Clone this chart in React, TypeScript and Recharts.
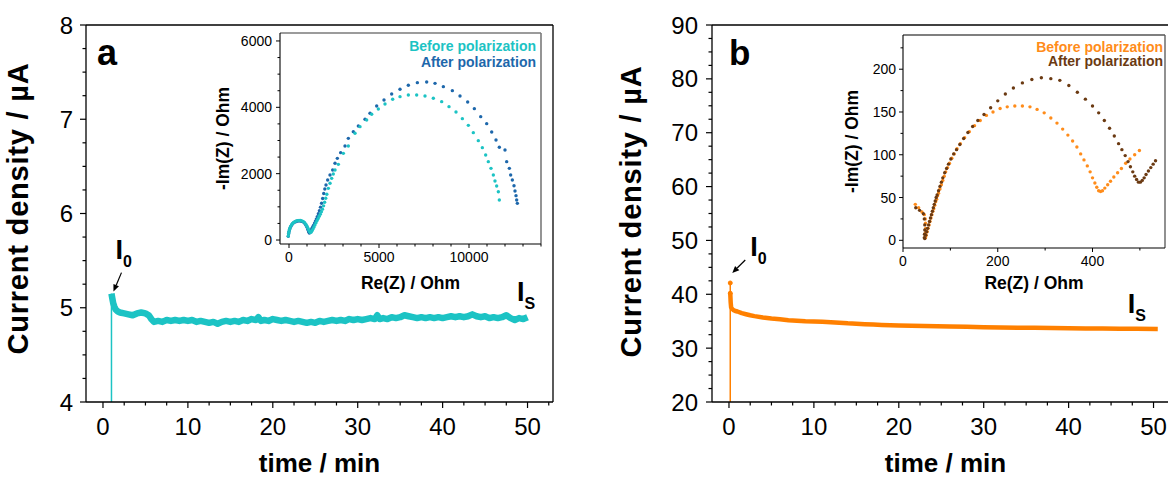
import React from 'react';
import {
  ComposedChart,
  Line,
  XAxis,
  YAxis,
  ReferenceLine,
  ReferenceDot,
  ScatterChart,
  Scatter,
  Label,
} from 'recharts';

const FONT = '"Liberation Sans", Arial, Helvetica, sans-serif';

const CYAN = '#1CC3C4';
const BLUE = '#1D67AB';
const ORANGE = '#FF8000';
const ORANGE_LIGHT = '#FF8C1A';
const BROWN = '#6B3A12';

// ---------- Panel a: chronoamperometry ----------
const timeA = [1.0, 1.1, 1.2, 1.35, 1.5, 1.75, 2.0, 2.5, 3.0, 3.5, 4.0, 4.5, 5.0, 5.4, 5.7, 6.0, 6.5, 7.0, 7.5, 8.0, 8.5, 9.0, 9.5, 10.0, 10.5, 11.0, 11.5, 12.0, 12.5, 13.0, 13.5, 14.0, 14.5, 15.0, 15.5, 16.0, 16.5, 17.0, 17.5, 18.0, 18.3, 18.6, 19.0, 19.5, 20.0, 20.5, 21.0, 21.5, 22.0, 22.5, 23.0, 23.5, 24.0, 24.5, 25.0, 25.5, 26.0, 26.5, 27.0, 27.5, 28.0, 28.5, 29.0, 29.5, 30.0, 30.5, 31.0, 31.5, 32.0, 32.3, 32.6, 33.0, 33.5, 34.0, 34.5, 35.0, 35.5, 36.0, 36.5, 37.0, 37.5, 38.0, 38.5, 39.0, 39.5, 40.0, 40.5, 41.0, 41.5, 42.0, 42.5, 43.0, 43.5, 44.0, 44.5, 45.0, 45.5, 46.0, 46.5, 47.0, 47.5, 48.0, 48.5, 49.0, 49.5, 50.0];
const currentA = [5.15, 5.10, 5.05, 5.01, 4.98, 4.96, 4.95, 4.94, 4.93, 4.92, 4.94, 4.95, 4.94, 4.92, 4.88, 4.85, 4.86, 4.85, 4.87, 4.86, 4.87, 4.86, 4.87, 4.86, 4.87, 4.85, 4.86, 4.85, 4.84, 4.85, 4.83, 4.85, 4.86, 4.85, 4.86, 4.85, 4.87, 4.86, 4.88, 4.87, 4.90, 4.86, 4.87, 4.86, 4.88, 4.87, 4.86, 4.87, 4.86, 4.85, 4.86, 4.85, 4.84, 4.85, 4.84, 4.86, 4.85, 4.86, 4.87, 4.86, 4.87, 4.86, 4.88, 4.87, 4.88, 4.87, 4.88, 4.89, 4.88, 4.92, 4.88, 4.89, 4.88, 4.90, 4.89, 4.90, 4.92, 4.91, 4.90, 4.89, 4.90, 4.89, 4.90, 4.89, 4.90, 4.89, 4.90, 4.91, 4.90, 4.91, 4.90, 4.91, 4.93, 4.91, 4.90, 4.91, 4.89, 4.90, 4.89, 4.90, 4.92, 4.89, 4.87, 4.89, 4.88, 4.90];
const spikeTimeA = [1.0, 1.0];
const spikeCurrentA = [4.0, 5.15];

// ---------- Panel b: chronoamperometry ----------
const timeB = [0.15, 0.2, 0.25, 0.35, 0.5, 0.75, 1, 1.5, 2, 2.5, 3, 4, 5, 6, 7, 8, 9, 10, 11, 12, 13, 14, 15, 16, 17, 18, 19, 20, 21.5, 23, 24.5, 26, 28, 30, 32, 34, 36, 38, 40, 42, 44, 46, 48, 50.5];
const currentB = [40.2, 38.5, 37.6, 37.3, 37.1, 36.9, 36.8, 36.5, 36.3, 36.1, 35.95, 35.7, 35.5, 35.35, 35.2, 35.1, 35.0, 34.95, 34.88, 34.8, 34.7, 34.6, 34.55, 34.45, 34.38, 34.3, 34.25, 34.2, 34.15, 34.1, 34.05, 34.0, 33.95, 33.9, 33.85, 33.8, 33.77, 33.72, 33.7, 33.66, 33.63, 33.6, 33.58, 33.55];
const spikeTimeB = [0.15, 0.15];
const spikeCurrentB = [20, 42.1];
const peakTimeB = [0.15, 0.15];
const peakCurrentB = [42.1, 40.2];

// ---------- Inset a: Nyquist ----------
const reBeforeA = [-40, -20, 0, 30, 60, 100, 150, 200, 260, 330, 400, 480, 560, 640, 720, 800, 870, 940, 1000, 1060, 1110, 1150, 1190, 1240, 1290, 1340, 1390, 1440, 1500, 1560, 1620, 1680, 1740, 1800, 1860, 1920, 1980, 2040, 2100, 2185, 2280, 2370, 2460, 2556, 2741, 3019, 3296, 3667, 3944, 4315, 4593, 4963, 5334, 5760, 6167, 6630, 7093, 7556, 8019, 8482, 8889, 9278, 9630, 9963, 10240, 10518, 10741, 10926, 11074, 11222, 11352, 11444, 11537, 11630, 11685];
const imBeforeA = [120, 200, 260, 320, 370, 420, 465, 500, 530, 555, 572, 585, 590, 588, 578, 555, 520, 470, 415, 350, 295, 250, 225, 245, 290, 340, 395, 455, 520, 590, 650, 715, 780, 850, 930, 1030, 1140, 1260, 1380, 1558, 1710, 1859, 1990, 2110, 2281, 2613, 2834, 3216, 3417, 3618, 3789, 3950, 4100, 4241, 4321, 4372, 4372, 4342, 4271, 4170, 4020, 3859, 3658, 3457, 3236, 2995, 2784, 2563, 2362, 2161, 1960, 1779, 1628, 1457, 1206];
const reAfterA = [-40, -20, 0, 30, 60, 100, 150, 200, 260, 330, 400, 480, 560, 640, 720, 800, 870, 930, 990, 1040, 1090, 1130, 1170, 1220, 1270, 1320, 1370, 1420, 1470, 1520, 1570, 1630, 1690, 1750, 1810, 1870, 1930, 1990, 2056, 2148, 2278, 2426, 2556, 2685, 2870, 3111, 3296, 3574, 3852, 4223, 4500, 4871, 5278, 5704, 6167, 6630, 7130, 7649, 8112, 8575, 9075, 9500, 9926, 10297, 10650, 10983, 11261, 11500, 11685, 12000, 12093, 12241, 12315, 12408, 12501, 12556, 12612, 12649, 12686];
const imAfterA = [110, 190, 250, 310, 360, 410, 455, 490, 520, 545, 560, 572, 576, 573, 562, 540, 505, 455, 395, 320, 250, 210, 235, 290, 350, 400, 450, 510, 570, 630, 700, 790, 880, 990, 1110, 1250, 1400, 1540, 1658, 1809, 1960, 2111, 2312, 2462, 2633, 2834, 3065, 3266, 3437, 3638, 3819, 4040, 4221, 4402, 4543, 4663, 4743, 4764, 4723, 4623, 4502, 4342, 4161, 3960, 3719, 3508, 3256, 3015, 2794, 2714, 2362, 2161, 1960, 1809, 1638, 1477, 1337, 1206, 1106];

// ---------- Inset b: Nyquist ----------
const reBeforeB = [26, 33, 40, 45, 47, 47.5, 48, 47.5, 47, 47.5, 49, 51, 53, 55, 57, 59, 61, 63, 65, 67, 69, 71, 73, 75, 78, 81, 84, 87, 90, 94, 98, 103, 108, 114, 121, 130, 140, 151, 163, 176, 190, 205, 220, 236, 252, 268, 283, 298, 312, 325, 337, 348, 358, 367, 375, 382, 389, 395, 400, 405, 409, 413, 417, 421, 426, 432, 438, 445, 453, 461, 470, 479, 489, 499];
const imBeforeB = [42, 38, 33, 30, 25, 20, 14, 9, 5, 3, 6, 10, 14, 18, 22, 26, 30, 34, 37, 41, 45, 48, 52, 55, 60, 65, 70, 75, 80, 85, 90, 96, 101, 107, 113, 120, 127, 134, 140, 146, 150, 154, 156, 157, 157, 156, 153, 149, 143, 137, 130, 123, 116, 109, 101, 94, 87, 80, 73, 67, 62, 58, 57, 58, 61, 65, 69, 74, 79, 84, 90, 95, 100, 105];
const reAfterB = [27, 35, 43, 45, 46, 46, 45.5, 45, 46, 48, 50, 52, 54, 56, 58, 60, 62, 64, 66, 68, 70, 72, 75, 78, 81, 84, 88, 92, 96, 101, 107, 113, 120, 128, 137, 147, 158, 171, 185, 200, 216, 233, 252, 272, 292, 312, 331, 350, 368, 385, 400, 413, 425, 436, 446, 455, 462, 469, 475, 480, 485, 489, 493, 497, 501, 505, 509, 513, 518, 523, 528, 533];
const imAfterB = [38, 35, 31, 25, 18, 12, 7, 3, 2, 6, 10, 14, 18, 22, 26, 30, 34, 38, 42, 46, 50, 53, 58, 63, 68, 73, 79, 84, 89, 95, 101, 106, 112, 119, 126, 133, 140, 147, 155, 163, 171, 178, 184, 188, 190, 189, 187, 181, 173, 165, 157, 149, 140, 131, 122, 113, 106, 99, 92, 86, 80, 75, 71, 68, 68, 70, 73, 77, 81, 85, 89, 93];

// ---------- Ticks ----------
const mainXTicks = [0, 2.5, 5, 7.5, 10, 12.5, 15, 17.5, 20, 22.5, 25, 27.5, 30, 32.5, 35, 37.5, 40, 42.5, 45, 47.5, 50, 52.5];
const mainXMajor = [0, 10, 20, 30, 40, 50];
const yTicksA = [4, 4.25, 4.5, 4.75, 5, 5.25, 5.5, 5.75, 6, 6.25, 6.5, 6.75, 7, 7.25, 7.5, 7.75, 8];
const yMajorA = [4, 5, 6, 7, 8];
const yTicksB = [20, 22.5, 25, 27.5, 30, 32.5, 35, 37.5, 40, 42.5, 45, 47.5, 50, 52.5, 55, 57.5, 60, 62.5, 65, 67.5, 70, 72.5, 75, 77.5, 80, 82.5, 85, 87.5, 90];
const yMajorB = [20, 30, 40, 50, 60, 70, 80, 90];
const insetAXTicks = [0, 1000, 2000, 3000, 4000, 5000, 6000, 7000, 8000, 9000, 10000, 11000, 12000, 13000, 14000];
const insetAXMajor = [0, 5000, 10000];
const insetAYTicks = [0, 500, 1000, 1500, 2000, 2500, 3000, 3500, 4000, 4500, 5000, 5500, 6000];
const insetAYMajor = [0, 2000, 4000, 6000];
const insetBXTicks = [0, 100, 200, 300, 400, 500];
const insetBXMajor = [0, 200, 400];
const insetBYTicks = [0, 25, 50, 75, 100, 125, 150, 175, 200, 225];
const insetBYMajor = [0, 50, 100, 150, 200];

const zip = (xs: number[], ys: number[]) => xs.map((x, i) => ({ x, y: ys[i] }));

const bandA = zip(timeA, currentA);
const spikeA = zip(spikeTimeA, spikeCurrentA);
const bandB = zip(timeB, currentB);
const spikeB = zip(spikeTimeB, spikeCurrentB);
const peakB = zip(peakTimeB, peakCurrentB);
const beforeA = zip(reBeforeA, imBeforeA);
const afterA = zip(reAfterA, imAfterA);
const beforeB = zip(reBeforeB, imBeforeB);
const afterB = zip(reAfterB, imAfterB);

function makeTick(
  orient: 'bottom' | 'left',
  majors: number[],
  fontSize: number,
  majorLen: number,
  minorLen: number,
  offset: number,
  sw: number
) {
  return (props: any) => {
    const { x, y, payload } = props;
    const v = payload.value;
    const isMajor = majors.some((m) => Math.abs(m - v) < 1e-9);
    const len = isMajor ? majorLen : minorLen;
    if (orient === 'bottom') {
      return (
        <g>
          <line x1={x} x2={x} y1={y} y2={y + len} stroke="#000" strokeWidth={sw} />
          {isMajor && (
            <text x={x} y={y + offset} textAnchor="middle" fontSize={fontSize} fontFamily={FONT} fill="#000">
              {v}
            </text>
          )}
        </g>
      );
    }
    return (
      <g>
        <line x1={x} x2={x - len} y1={y} y2={y} stroke="#000" strokeWidth={sw} />
        {isMajor && (
          <text x={x - offset} y={y} dy="0.36em" textAnchor="end" fontSize={fontSize} fontFamily={FONT} fill="#000">
            {v}
          </text>
        )}
      </g>
    );
  };
}

const xTitle = (text: string, fs: number, dyBase: number) => (p: any) => {
  const vb = p.viewBox || { x: 0, y: 0, width: 0, height: 0 };
  return (
    <text x={vb.x + vb.width / 2} y={vb.y + dyBase} textAnchor="middle" fontSize={fs} fontWeight="bold" fontFamily={FONT} fill="#000">
      {text}
    </text>
  );
};

const yTitle = (text: string, fs: number, xBase: number, spacing = 0, dyc = 0) => (p: any) => {
  const vb = p.viewBox || { x: 0, y: 0, width: 0, height: 0 };
  const cy = vb.y + vb.height / 2 + dyc;
  return (
    <text transform={`translate(${vb.x + xBase},${cy}) rotate(-90)`} textAnchor="middle" fontSize={fs} fontWeight="bold" fontFamily={FONT} fill="#000" letterSpacing={spacing}>
      {text}
    </text>
  );
};

const Arrow = ({ x1, y1, x2, y2 }: { x1: number; y1: number; x2: number; y2: number }) => {
  const dx = x2 - x1;
  const dy = y2 - y1;
  const L = Math.hypot(dx, dy) || 1;
  const ux = dx / L;
  const uy = dy / L;
  const hl = 7;
  const hw = 3;
  const bx = x2 - ux * hl;
  const by = y2 - uy * hl;
  return (
    <g>
      <line x1={x1} y1={y1} x2={bx} y2={by} stroke="#000" strokeWidth={1.2} />
      <polygon points={`${x2},${y2} ${bx - uy * hw},${by + ux * hw} ${bx + uy * hw},${by - ux * hw}`} fill="#000" />
    </g>
  );
};

const subLabel = (main: string, sub: string, dx: number, dy: number) => (p: any) => (
  <text x={p.cx + dx} y={p.cy + dy} fontSize={27} fontWeight="bold" fontFamily={FONT} fill="#000">
    {main}
    <tspan fontSize={16} dy={8}>
      {sub}
    </tspan>
  </text>
);

const i0Label = (tdx: number, tdy: number, a: number[]) => (p: any) => (
  <g>
    <text x={p.cx + tdx} y={p.cy + tdy} fontSize={27} fontWeight="bold" fontFamily={FONT} fill="#000">
      I
      <tspan fontSize={16} dy={8}>
        0
      </tspan>
    </text>
    <Arrow x1={p.cx + a[0]} y1={p.cy + a[1]} x2={p.cx + a[2]} y2={p.cy + a[3]} />
  </g>
);

const panelLetter = (letter: string, dx: number, dy: number, fs: number) => (p: any) => (
  <text x={p.cx + dx} y={p.cy + dy} fontSize={fs} fontWeight="bold" fontFamily={FONT} fill="#000">
    {letter}
  </text>
);

const legendBlock = (c1: string, c2: string, dx: number, dy1: number, dy2: number) => (p: any) => (
  <g fontFamily={FONT} fontWeight="bold" fontSize={14} textAnchor="end">
    <text x={p.cx + dx} y={p.cy + dy1} fill={c1}>
      Before polarization
    </text>
    <text x={p.cx + dx} y={p.cy + dy2} fill={c2}>
      After polarization
    </text>
  </g>
);

const dotShape = (color: string, r: number) => (p: any) => <circle cx={p.cx} cy={p.cy} r={r} fill={color} />;

const axisLine = { stroke: '#000', strokeWidth: 1.3 };

const tickMainX = makeTick('bottom', mainXMajor, 24, 6, 3.5, 33, 1.2);
const tickAY = makeTick('left', yMajorA, 24, 6, 3.5, 13, 1.2);
const tickBY = makeTick('left', yMajorB, 24, 6, 3.5, 14, 1.2);
const tickInAX = makeTick('bottom', insetAXMajor, 14, 4, 2.5, 18, 1);
const tickInAY = makeTick('left', insetAYMajor, 14, 4, 2.5, 8, 1);
const tickInBX = makeTick('bottom', insetBXMajor, 14, 4, 2.5, 18, 1);
const tickInBY = makeTick('left', insetBYMajor, 14, 4, 2.5, 7, 1);

export default function App() {
  return (
    <div style={{ position: 'absolute', left: 0, top: 0, width: 1168, height: 478, overflow: 'hidden', background: '#fff' }}>
      {/* Panel a main */}
      <div style={{ position: 'absolute', left: 0, top: 0 }}>
        <ComposedChart width={600} height={478} margin={{ top: 25, right: 47, left: 0, bottom: 0 }}>
          <XAxis type="number" dataKey="x" domain={[-2, 53]} allowDataOverflow ticks={mainXTicks} interval={0} tickSize={0} tickMargin={0} tickLine={false} tick={tickMainX} height={76} axisLine={axisLine}>
            <Label content={xTitle('time / min', 26, 70)} />
          </XAxis>
          <YAxis type="number" domain={[4, 8]} allowDataOverflow ticks={yTicksA} interval={0} tickSize={0} tickMargin={0} tickLine={false} tick={tickAY} width={86} axisLine={axisLine}>
            <Label content={yTitle('Current density / µA', 29, 28, 0.8, -5)} />
          </YAxis>
          <ReferenceLine y={8} stroke="#000" strokeWidth={1.3} />
          <ReferenceLine x={53} stroke="#000" strokeWidth={1.3} />
          <Line data={spikeA} dataKey="y" stroke={CYAN} strokeWidth={1.5} dot={false} activeDot={false} isAnimationActive={false} />
          <Line data={bandA} dataKey="y" stroke={CYAN} strokeWidth={6.5} strokeLinejoin="round" dot={false} activeDot={false} isAnimationActive={false} />
          <ReferenceDot x={-2} y={8} r={0} ifOverflow="visible" shape={panelLetter('a', 11, 40, 36)} />
          <ReferenceDot x={timeA[0]} y={currentA[0]} r={0} ifOverflow="visible" shape={i0Label(4, -35, [10, -21, 2, -2])} />
          <ReferenceDot x={timeA[timeA.length - 1]} y={currentA[currentA.length - 1]} r={0} ifOverflow="visible" shape={subLabel('I', 'S', -10.5, -16)} />
        </ComposedChart>
      </div>

      {/* Panel b main */}
      <div style={{ position: 'absolute', left: 600, top: 0 }}>
        <ComposedChart width={600} height={478} margin={{ top: 25, right: 21, left: 0, bottom: 0 }}>
          <XAxis type="number" dataKey="x" domain={[-2, 53]} allowDataOverflow ticks={mainXTicks} interval={0} tickSize={0} tickMargin={0} tickLine={false} tick={tickMainX} height={76} axisLine={axisLine}>
            <Label content={xTitle('time / min', 26, 70)} />
          </XAxis>
          <YAxis type="number" domain={[20, 90]} allowDataOverflow ticks={yTicksB} interval={0} tickSize={0} tickMargin={0} tickLine={false} tick={tickBY} width={112} axisLine={axisLine}>
            <Label content={yTitle('Current density / µA', 29, 41, 0.8, -2)} />
          </YAxis>
          <ReferenceLine y={90} stroke="#000" strokeWidth={1.3} />
          <ReferenceLine x={53} stroke="#000" strokeWidth={1.3} />
          <Line data={spikeB} dataKey="y" stroke={ORANGE} strokeWidth={1.5} dot={false} activeDot={false} isAnimationActive={false} />
          <Line data={peakB} dataKey="y" stroke="none" dot={{ r: 2, fill: ORANGE, stroke: ORANGE }} activeDot={false} isAnimationActive={false} />
          <Line data={bandB} dataKey="y" stroke={ORANGE} strokeWidth={4.5} strokeLinejoin="round" dot={false} activeDot={false} isAnimationActive={false} />
          <ReferenceDot x={-2} y={90} r={0} ifOverflow="visible" shape={panelLetter('b', 17, 40, 35)} />
          <ReferenceDot x={peakTimeB[0]} y={peakCurrentB[0]} r={0} ifOverflow="visible" shape={i0Label(20, -27, [15, -23, 2, -10])} />
          <ReferenceDot x={timeB[timeB.length - 1]} y={currentB[currentB.length - 1]} r={0} ifOverflow="visible" shape={subLabel('I', 'S', -30, -16)} />
        </ComposedChart>
      </div>

      {/* Inset a */}
      <div style={{ position: 'absolute', left: 200, top: 20 }}>
        <ScatterChart width={360} height={280} margin={{ top: 13, right: 19, left: 0, bottom: 0 }}>
          <XAxis type="number" dataKey="x" domain={[-500, 14000]} allowDataOverflow ticks={insetAXTicks} interval={0} tickSize={0} tickMargin={0} tickLine={false} tick={tickInAX} height={56} axisLine={{ stroke: '#000', strokeWidth: 1.1 }}>
            <Label content={xTitle('Re(Z) / Ohm', 17.5, 45)} />
          </XAxis>
          <YAxis type="number" dataKey="y" domain={[-120, 6240]} allowDataOverflow ticks={insetAYTicks} interval={0} tickSize={0} tickMargin={0} tickLine={false} tick={tickInAY} width={80} axisLine={{ stroke: '#000', strokeWidth: 1.1 }}>
            <Label content={yTitle('-Im(Z) / Ohm', 17.5, 29)} />
          </YAxis>
          <ReferenceLine y={6240} stroke="#7a7a7a" strokeWidth={1.6} />
          <ReferenceLine x={14000} stroke="#7a7a7a" strokeWidth={1.6} />
          <Scatter data={afterA} fill={BLUE} shape={dotShape(BLUE, 1.7)} isAnimationActive={false} />
          <Scatter data={beforeA} fill={CYAN} shape={dotShape(CYAN, 1.7)} isAnimationActive={false} />
          <ReferenceDot x={14000} y={6240} r={0} ifOverflow="visible" shape={legendBlock(CYAN, BLUE, -5, 18, 34)} />
        </ScatterChart>
      </div>

      {/* Inset b */}
      <div style={{ position: 'absolute', left: 820, top: 20 }}>
        <ScatterChart width={360} height={280} margin={{ top: 15, right: 15, left: 0, bottom: 0 }}>
          <XAxis type="number" dataKey="x" domain={[0, 553]} allowDataOverflow ticks={insetBXTicks} interval={0} tickSize={0} tickMargin={0} tickLine={false} tick={tickInBX} height={52} axisLine={{ stroke: '#000', strokeWidth: 1.1 }}>
            <Label content={xTitle('Re(Z) / Ohm', 17.5, 41)} />
          </XAxis>
          <YAxis type="number" dataKey="y" domain={[-9, 240]} allowDataOverflow ticks={insetBYTicks} interval={0} tickSize={0} tickMargin={0} tickLine={false} tick={tickInBY} width={83} axisLine={{ stroke: '#000', strokeWidth: 1.1 }}>
            <Label content={yTitle('-Im(Z) / Ohm', 17.5, 38)} />
          </YAxis>
          <ReferenceLine y={240} stroke="#555" strokeWidth={1.3} />
          <ReferenceLine x={553} stroke="#555" strokeWidth={1.3} />
          <Scatter data={beforeB} fill={ORANGE_LIGHT} shape={dotShape(ORANGE_LIGHT, 1.7)} isAnimationActive={false} />
          <Scatter data={afterB} fill={BROWN} shape={dotShape(BROWN, 1.7)} isAnimationActive={false} />
          <ReferenceDot x={553} y={240} r={0} ifOverflow="visible" shape={legendBlock(ORANGE_LIGHT, BROWN, -2, 17, 31)} />
        </ScatterChart>
      </div>
    </div>
  );
}
